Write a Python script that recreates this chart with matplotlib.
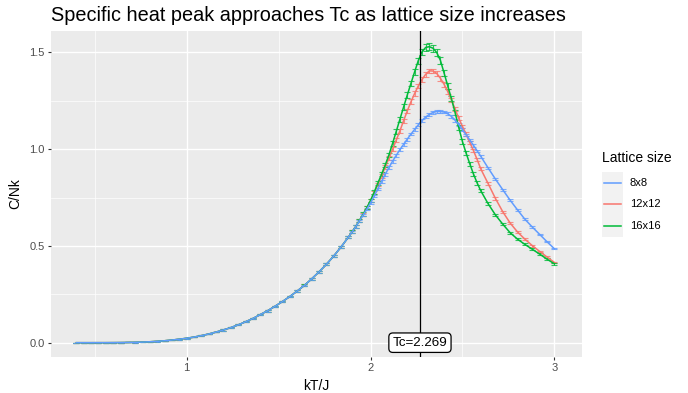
import matplotlib
matplotlib.use("Agg")
import matplotlib.pyplot as plt
from matplotlib.patches import Rectangle
from matplotlib.lines import Line2D

plt.rcParams['font.family'] = ['Liberation Sans', 'DejaVu Sans']

# ---------------- data ----------------
kT = [0.40, 0.44, 0.48, 0.52, 0.56, 0.60, 0.64, 0.68, 0.72, 0.76,
      0.80, 0.84, 0.88, 0.92, 0.96, 1.00, 1.04, 1.08, 1.12, 1.16,
      1.20, 1.24, 1.28, 1.32, 1.36, 1.40, 1.44, 1.48, 1.52, 1.56,
      1.60, 1.64, 1.68, 1.72, 1.76, 1.80, 1.84, 1.88,
      1.90, 1.92, 1.94, 1.96, 1.98, 2.00, 2.02, 2.04, 2.06, 2.08,
      2.10, 2.12, 2.14, 2.16, 2.18, 2.20, 2.22, 2.24, 2.26, 2.28,
      2.30, 2.32, 2.34, 2.36, 2.38, 2.40, 2.42, 2.44, 2.46, 2.48,
      2.50, 2.52, 2.54, 2.56, 2.58, 2.60,
      2.64, 2.68, 2.72, 2.76, 2.80, 2.84, 2.88, 2.92, 2.96, 3.00]

C_8x8 = [0.0000, 0.0000, 0.0000, 0.0001, 0.0001, 0.0003, 0.0006, 0.0011, 0.0019, 0.0031,
         0.0048, 0.0071, 0.0100, 0.0137, 0.0180, 0.0230, 0.0290, 0.0365, 0.0450, 0.0550,
         0.0660, 0.0780, 0.0920, 0.1080, 0.1250, 0.1450, 0.1650, 0.1880, 0.2120, 0.2380,
         0.2660, 0.2960, 0.3300, 0.3660, 0.4050, 0.4480, 0.4950, 0.5460,
         0.573, 0.600, 0.630, 0.660, 0.690, 0.722, 0.758, 0.795, 0.833, 0.870,
         0.905, 0.938, 0.968, 0.998, 1.025, 1.052, 1.078, 1.102, 1.126, 1.148,
         1.166, 1.180, 1.190, 1.195, 1.195, 1.192, 1.183, 1.170, 1.150, 1.128,
         1.102, 1.075, 1.048, 1.020, 0.992, 0.963,
         0.903, 0.845, 0.790, 0.736, 0.686, 0.638, 0.598, 0.560, 0.522, 0.486]

C_12x12 = [0.0000, 0.0000, 0.0000, 0.0001, 0.0001, 0.0003, 0.0006, 0.0011, 0.0019, 0.0031,
           0.0048, 0.0071, 0.0100, 0.0137, 0.0180, 0.0230, 0.0290, 0.0365, 0.0450, 0.0550,
           0.0660, 0.0780, 0.0920, 0.1080, 0.1250, 0.1450, 0.1650, 0.1880, 0.2120, 0.2380,
           0.2660, 0.2960, 0.3300, 0.3660, 0.4050, 0.4480, 0.4950, 0.5460,
           0.573, 0.601, 0.632, 0.663, 0.697, 0.733, 0.775, 0.818, 0.862, 0.908,
           0.953, 1.000, 1.047, 1.095, 1.147, 1.198, 1.245, 1.288, 1.327, 1.360,
           1.387, 1.405, 1.404, 1.392, 1.367, 1.336, 1.298, 1.255, 1.208, 1.160,
           1.118, 1.078, 1.035, 0.993, 0.947, 0.898,
           0.822, 0.745, 0.676, 0.618, 0.572, 0.535, 0.502, 0.472, 0.443, 0.415]

C_16x16 = [0.0000, 0.0000, 0.0000, 0.0001, 0.0001, 0.0003, 0.0006, 0.0011, 0.0019, 0.0031,
           0.0048, 0.0071, 0.0100, 0.0137, 0.0180, 0.0230, 0.0290, 0.0365, 0.0450, 0.0550,
           0.0660, 0.0780, 0.0920, 0.1080, 0.1250, 0.1450, 0.1650, 0.1880, 0.2120, 0.2380,
           0.2660, 0.2960, 0.3300, 0.3660, 0.4050, 0.4480, 0.4950, 0.5460,
           0.573, 0.601, 0.632, 0.664, 0.698, 0.735, 0.778, 0.825, 0.870, 0.918,
           0.970, 1.030, 1.092, 1.155, 1.218, 1.280, 1.340, 1.400, 1.458, 1.503,
           1.526, 1.530, 1.522, 1.500, 1.460, 1.395, 1.328, 1.262, 1.190, 1.112,
           1.040, 0.980, 0.925, 0.872, 0.826, 0.785,
           0.718, 0.660, 0.612, 0.568, 0.535, 0.508, 0.483, 0.458, 0.432, 0.408]

err_8x8 = [0.000, 0.000, 0.000, 0.000, 0.000, 0.000, 0.000, 0.000, 0.001, 0.001,
           0.001, 0.001, 0.001, 0.001, 0.002, 0.002, 0.002, 0.002, 0.002, 0.002,
           0.003, 0.003, 0.003, 0.003, 0.003, 0.003, 0.004, 0.004, 0.004, 0.004,
           0.004, 0.004, 0.005, 0.005, 0.005, 0.005, 0.005, 0.005,
           0.005, 0.006, 0.006, 0.006, 0.006, 0.006, 0.006, 0.006, 0.006, 0.006,
           0.007, 0.007, 0.007, 0.007, 0.007, 0.007, 0.007, 0.007, 0.007, 0.007,
           0.007, 0.007, 0.007, 0.007, 0.007, 0.007, 0.007, 0.007, 0.007, 0.007,
           0.006, 0.006, 0.006, 0.006, 0.006, 0.006,
           0.006, 0.005, 0.005, 0.005, 0.005, 0.004, 0.004, 0.004, 0.004, 0.004]

err_12x12 = [0.000, 0.000, 0.000, 0.000, 0.000, 0.000, 0.000, 0.000, 0.001, 0.001,
             0.001, 0.001, 0.001, 0.001, 0.002, 0.002, 0.002, 0.002, 0.002, 0.002,
             0.003, 0.003, 0.003, 0.003, 0.003, 0.003, 0.004, 0.004, 0.004, 0.004,
             0.004, 0.005, 0.005, 0.005, 0.005, 0.006, 0.006, 0.007,
             0.007, 0.007, 0.007, 0.008, 0.008, 0.008, 0.009, 0.009, 0.010, 0.010,
             0.010, 0.010, 0.011, 0.011, 0.011, 0.011, 0.012, 0.012, 0.012, 0.012,
             0.012, 0.012, 0.012, 0.012, 0.012, 0.012, 0.011, 0.011, 0.010, 0.010,
             0.009, 0.009, 0.009, 0.008, 0.008, 0.008,
             0.007, 0.007, 0.006, 0.006, 0.005, 0.005, 0.005, 0.004, 0.004, 0.004]

err_16x16 = [0.000, 0.000, 0.000, 0.000, 0.000, 0.000, 0.000, 0.000, 0.001, 0.001,
             0.001, 0.001, 0.001, 0.001, 0.002, 0.002, 0.002, 0.002, 0.002, 0.002,
             0.003, 0.003, 0.003, 0.003, 0.003, 0.003, 0.004, 0.004, 0.004, 0.004,
             0.004, 0.005, 0.005, 0.005, 0.006, 0.006, 0.007, 0.007,
             0.007, 0.008, 0.008, 0.009, 0.009, 0.010, 0.010, 0.011, 0.011, 0.012,
             0.012, 0.013, 0.013, 0.014, 0.014, 0.015, 0.015, 0.016, 0.016, 0.017,
             0.017, 0.017, 0.017, 0.017, 0.017, 0.016, 0.015, 0.014, 0.013, 0.012,
             0.011, 0.010, 0.010, 0.009, 0.009, 0.008,
             0.007, 0.006, 0.006, 0.005, 0.005, 0.005, 0.004, 0.004, 0.004, 0.004]

series_labels = ["8x8", "12x12", "16x16"]
series_colors = {"8x8": "#619CFF", "12x12": "#F8766D", "16x16": "#00BA38"}
Tc = 2.269
tc_label = "Tc=2.269"
title = "Specific heat peak approaches Tc as lattice size increases"
xlabel = "kT/J"
ylabel = "C/Nk"
legend_title = "Lattice size"
xticks = [1, 2, 3]
yticks = [0.0, 0.5, 1.0, 1.5]
ytick_labels = ["0.0", "0.5", "1.0", "1.5"]

data = {"8x8": (C_8x8, err_8x8), "12x12": (C_12x12, err_12x12), "16x16": (C_16x16, err_16x16)}

# ---------------- figure ----------------
W, H = 688, 393
fig = plt.figure(figsize=(W / 100, H / 100), dpi=100)

def fx(px):
    return px / W

def fy(py):
    return 1 - py / H

L, R, T, B = 50.7, 581.7, 31.0, 356.7
ax = fig.add_axes([fx(L), fy(B), fx(R) - fx(L), fy(T) - fy(B)])
ax.set_facecolor('#EBEBEB')
for s in ax.spines.values():
    s.set_visible(False)

ax.set_xlim(0.26, 3.149)
ax.set_ylim(-0.0724, 1.611)
ax.set_xticks(xticks)
ax.set_xticklabels([str(v) for v in xticks])
ax.set_xticks([0.5, 1.5, 2.5], minor=True)
ax.set_yticks(yticks)
ax.set_yticklabels(ytick_labels)
ax.set_yticks([0.25, 0.75, 1.25], minor=True)
ax.grid(which='major', color='white', lw=1.0)
ax.grid(which='minor', color='white', lw=0.5)
ax.set_axisbelow(True)
ax.tick_params(which='major', length=2.5, width=0.8, color='#333333',
               labelcolor='#4D4D4D', labelsize=8, pad=2)
ax.tick_params(which='minor', length=0)

# draw order: 12x12, 16x16, 8x8 (8x8 on top)
for name in ["12x12", "16x16", "8x8"]:
    C, e = data[name]
    col = series_colors[name]
    ax.errorbar(kT, C, yerr=e, fmt='none', ecolor=col, elinewidth=0.8,
                capsize=2.4, capthick=0.8, alpha=0.8, zorder=3)
    ax.plot(kT, C, color=col, lw=1.1, zorder=4)

ax.axvline(Tc, color='black', lw=0.9, zorder=5)
ax.text(Tc, 0.0, tc_label, ha='center', va='center', fontsize=9.6, color='black', zorder=6,
        bbox=dict(boxstyle='round,pad=0.28,rounding_size=0.3', fc='white', ec='black', lw=0.9))

ax.set_xlabel(xlabel, fontsize=10, color='black', labelpad=4)
ax.set_ylabel(ylabel, fontsize=10, color='black', labelpad=5)
fig.text(fx(L), fy(21), title, fontsize=14.3, color='black', ha='left', va='baseline')

# ---------------- legend ----------------
fig.text(fx(602), fy(162), legend_title, fontsize=10, color='black', ha='left', va='baseline')
key_top = 171.7
key_h = 21.7
fig.add_artist(Rectangle((fx(602), fy(key_top + 3 * key_h)), fx(623) - fx(602), 3 * key_h / H,
                         transform=fig.transFigure, facecolor='#F2F2F2', edgecolor='none'))
for i, name in enumerate(series_labels):
    yc = key_top + key_h * (i + 0.5)
    fig.add_artist(Line2D([fx(604), fx(621)], [fy(yc), fy(yc)], transform=fig.transFigure,
                          color=series_colors[name], lw=1.1))
    fig.text(fx(630), fy(yc), name, fontsize=8, color='black', ha='left', va='center')

fig.savefig("out.png", dpi=100)
